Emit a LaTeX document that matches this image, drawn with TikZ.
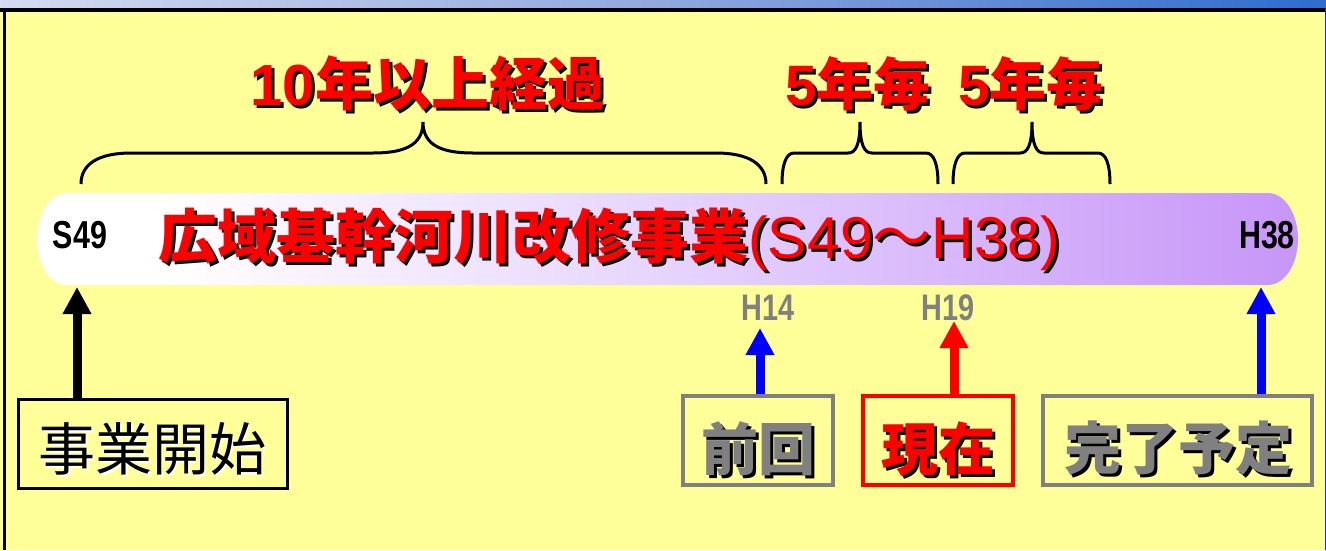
\documentclass[tikz,border=0pt]{standalone}
\usepackage{fontspec}
\usetikzlibrary{arrows.meta}
\newfontfamily\jp{Noto Sans CJK JP}
\newfontfamily\ar{Liberation Sans}
\newfontfamily\nar{Liberation Sans}[FakeStretch=0.78]
\definecolor{bgyellow}{HTML}{FFFF99}
\definecolor{stripL}{HTML}{D4DAF0}
\definecolor{stripM}{HTML}{90A8DE}
\definecolor{stripR}{HTML}{2E6CCE}
\definecolor{barM}{HTML}{E6D4FD}
\definecolor{barR}{HTML}{C796F8}
\definecolor{txtgray}{HTML}{808080}
\pgfdeclarehorizontalshading{barshade}{100bp}{color(0bp)=(white); color(25bp)=(white); color(30bp)=(white); color(50bp)=(barM); color(75bp)=(barR); color(100bp)=(barR)}
\newcommand\shtxt[8]{%
  \node[lbl, text=#5, font={#7}] (#1-sh) at ({#2+#6},{#3+#6}) {#8};
  \node[lbl, text=#4, font={#7}] (#1) at (#2,#3) {#8};}
\newcommand\drawbrace[4]{%
  \draw[bracestyle] (#1,184) .. controls (#1,164) and ({#1+0.35*#4},153) .. ({#1+#4},153)
    -- ({#2-#4},153) .. controls ({#2-0.4*#4},153) and (#2,146) .. (#2,122)
    .. controls (#2,146) and ({#2+0.4*#4},153) .. ({#2+#4},153)
    -- ({#3-#4},153) .. controls ({#3-0.35*#4},153) and (#3,164) .. (#3,184);}
\begin{document}
\begin{tikzpicture}[x=1pt,y=-1pt,
  lbl/.style={anchor=base, inner sep=0pt, outer sep=0pt},
  boxst/.style={line width=3.5pt, minimum height=89pt, inner sep=0pt},
  arr/.style={line width=9pt, -{Triangle[width=27pt,length=27pt]}},
  bracestyle/.style={line width=3pt, black},
  bigfont/.style={}]
\useasboundingbox (0,0) rectangle (1326,550);
% background
\fill[white] (0,0) rectangle (1326,550);
\fill[bgyellow] (0,12) rectangle (1326,550);
\shade[left color=stripL, right color=stripR, middle color=stripM] (0,0) rectangle (1326,8);
\fill[black] (0,8) rectangle (1326,12);
\fill[black] (2.5,8) rectangle (5.5,550);
\fill[black!80] (1324.5,8) rectangle (1326,550);
% bar
\shade[shading=barshade] (67,193) -- (1268,193)
  arc[start angle=90, end angle=-90, x radius=30pt, y radius=46pt]
  -- (67,285) arc[start angle=270, end angle=90, x radius=30pt, y radius=46pt] -- cycle;
\node[lbl, font={\fontsize{39}{39}\selectfont\nar\bfseries}] (s49) at (80,248) {S49};
\node[lbl, font={\fontsize{39}{39}\selectfont\nar\bfseries}] (h38) at (1267,248) {H38};
\shtxt{title}{609}{258}{red}{black}{3}{\fontsize{59}{59}\selectfont}{{\jp\bfseries 広域基幹河川改修事業}{\ar (S49}{\jp ～}{\ar H38)}}
% braces and labels
\drawbrace{81}{423}{766}{50}
\drawbrace{782}{860}{938}{12}
\drawbrace{953}{1032}{1110}{12}
\shtxt{ten}{428}{105}{red}{black}{3}{\fontsize{58}{58}\selectfont}{{\ar\bfseries 10}{\jp\bfseries 年以上経過}}
\shtxt{fiveA}{858}{105}{red}{black}{3}{\fontsize{57}{57}\selectfont}{{\ar\bfseries 5}{\jp\bfseries 年毎}}
\shtxt{fiveB}{1031}{105}{red}{black}{3}{\fontsize{57}{57}\selectfont}{{\ar\bfseries 5}{\jp\bfseries 年毎}}
% year labels below bar
\node[lbl, text=txtgray, font={\fontsize{37}{37}\selectfont\nar\bfseries}] (h14) at (768,320) {H14};
\node[lbl, text=txtgray, font={\fontsize{37}{37}\selectfont\nar\bfseries}] (h19) at (948,320) {H19};
% boxes
\node[boxst, draw=black, line width=3pt, minimum width=269pt] (start) at (152.5,443.5) {};
\node[boxst, draw=txtgray, minimum width=150pt] (prev) at (758,440.5) {};
\node[boxst, draw=red, minimum width=150pt] (now) at (938,440.5) {};
\node[boxst, draw=txtgray, minimum width=269pt] (done) at (1177.5,440.5) {};
\shtxt{startT}{152}{470}{black}{white}{2}{\fontsize{57}{57}\selectfont\jp}{事業開始}
\shtxt{prevT}{758}{470}{txtgray}{black}{3}{\fontsize{57}{57}\selectfont\jp\bfseries}{前回}
\shtxt{nowT}{938}{470}{red}{black}{3}{\fontsize{57}{57}\selectfont\jp\bfseries}{現在}
\shtxt{doneT}{1178}{469}{txtgray}{black}{3}{\fontsize{57}{57}\selectfont\jp\bfseries}{完了予定}
% arrows
\coordinate (tipStart) at (77,287);
\coordinate (tipPrev) at (760,328);
\coordinate (tipNow) at (954,321);
\coordinate (tipDone) at (1261,287);
\draw[arr, black] (tipStart |- start.north) -- (tipStart);
\draw[arr, blue] (tipPrev |- prev.north) -- (tipPrev);
\draw[arr, red] (tipNow |- now.north) -- (tipNow);
\draw[arr, blue] (tipDone |- done.north) -- (tipDone);
\end{tikzpicture}
\end{document}
